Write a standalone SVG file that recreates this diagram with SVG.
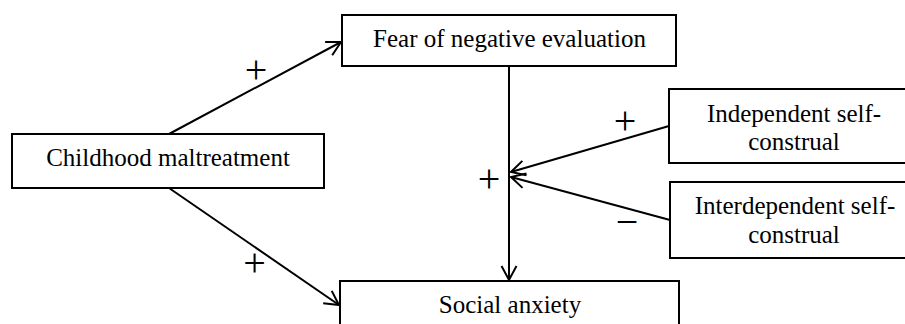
<svg xmlns="http://www.w3.org/2000/svg" width="905" height="324" viewBox="0 0 905 324">
<style>
.box{fill:#fff;stroke:#000;stroke-width:2}
.lbl{font-family:"Liberation Serif","Times New Roman",serif;font-size:25px;fill:#000;text-anchor:middle}
.sgn{font-family:"Liberation Serif","Times New Roman",serif;font-size:40px;fill:#000;text-anchor:middle}
.edge{stroke:#000;stroke-width:2;fill:none;marker-end:url(#arr)}
</style>
<defs>
<marker id="arr" markerUnits="userSpaceOnUse" markerWidth="30" markerHeight="30" refX="16" refY="10" orient="auto" viewBox="0 0 30 20">
<path d="M2,2.5 L16,10 L2,17.5" fill="none" stroke="#000" stroke-width="2"/>
</marker>
</defs>
<rect width="905" height="324" fill="#fff"/>
<g id="connectors">
<line class="edge" x1="169" y1="134" x2="341" y2="42"/>
<line class="edge" x1="169" y1="188" x2="339" y2="305"/>
<line class="edge" x1="509" y1="66" x2="509" y2="280"/>
<line class="edge" x1="669" y1="126" x2="511" y2="172"/>
<line class="edge" x1="670" y1="220" x2="511" y2="177"/>
<text class="sgn" x="256" y="83">+</text>
<text class="sgn" x="254.5" y="276">+</text>
<text class="sgn" x="625" y="134">+</text>
<text class="sgn" x="489" y="192">+</text>
<text class="sgn" x="627" y="235">−</text>
</g>
<g id="fear">
<rect class="box" x="342" y="15" width="334" height="51"/>
<text class="lbl" x="509.5" y="47">Fear of negative evaluation</text>
</g>
<g id="childhood">
<rect class="box" x="12" y="134" width="312" height="54"/>
<text class="lbl" x="168" y="166">Childhood maltreatment</text>
</g>
<g id="social">
<rect class="box" x="340" y="281" width="339" height="60"/>
<text class="lbl" x="510" y="313">Social anxiety</text>
</g>
<g id="independent">
<rect class="box" x="669" y="89" width="250" height="74"/>
<text class="lbl" x="794" y="122">Independent self-</text>
<text class="lbl" x="794" y="150">construal</text>
</g>
<g id="interdependent">
<rect class="box" x="670" y="182" width="250" height="76"/>
<text class="lbl" x="795" y="214">Interdependent self-</text>
<text class="lbl" x="794" y="243">construal</text>
</g>
</svg>
